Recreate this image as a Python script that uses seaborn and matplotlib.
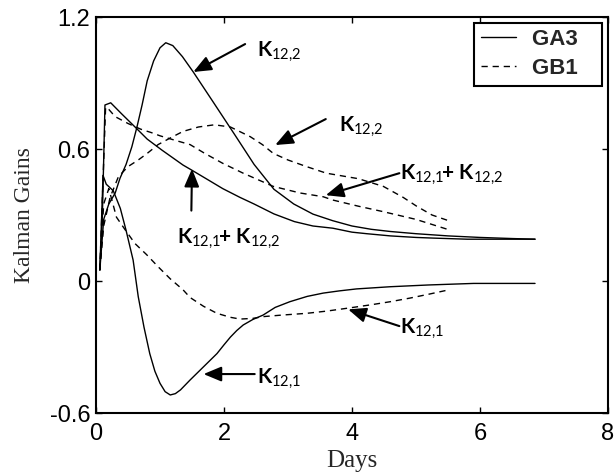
import matplotlib
matplotlib.use("Agg")
import matplotlib.pyplot as plt
import seaborn as sns
import pandas as pd
from matplotlib.lines import Line2D

# ---------------- data ----------------
ga3_k122_x = [0.06, 0.12, 0.2, 0.3, 0.375, 0.47, 0.56, 0.64, 0.72, 0.8, 0.9, 1.0, 1.09, 1.2, 1.35, 1.52,
              1.83, 2.17, 2.47, 2.78, 3.09, 3.39, 3.7, 4.0, 4.3, 4.6, 5.0, 5.5, 6.0, 6.5, 6.86]
ga3_k122_y = [0.05, 0.28, 0.35, 0.40, 0.467, 0.53, 0.61, 0.70, 0.80, 0.91, 1.0, 1.06, 1.083, 1.07, 1.02, 0.95,
              0.814, 0.664, 0.53, 0.417, 0.35, 0.304, 0.274, 0.25, 0.235, 0.225, 0.215, 0.205, 0.198, 0.193, 0.19]

ga3_sum_x = [0.06, 0.10, 0.14, 0.23, 0.4, 0.61, 0.8, 1.03, 1.2, 1.36, 1.49, 1.75, 1.98, 2.25, 2.47,
             2.78, 3.1, 3.39, 3.7, 4.0, 4.23, 4.6, 5.0, 5.27, 5.8, 6.3, 6.86]
ga3_sum_y = [0.05, 0.30, 0.80, 0.81, 0.76, 0.70, 0.645, 0.595, 0.56, 0.527, 0.505, 0.46, 0.42, 0.38, 0.35,
             0.305, 0.27, 0.25, 0.24, 0.222, 0.215, 0.205, 0.198, 0.195, 0.19, 0.19, 0.19]

ga3_k121_x = [0.06, 0.11, 0.16, 0.27, 0.38, 0.47, 0.58, 0.66, 0.75, 0.84, 0.92, 1.0, 1.08, 1.16, 1.24, 1.32,
              1.47, 1.68, 1.89, 2.0, 2.1, 2.2, 2.3, 2.45, 2.61, 2.8, 3.03, 3.3, 3.55, 3.8, 4.07, 4.6,
              5.2, 5.9, 6.86]
ga3_k121_y = [0.05, 0.48, 0.44, 0.41, 0.33, 0.23, 0.095, -0.071, -0.21, -0.33, -0.41, -0.465, -0.503,
              -0.518, -0.512, -0.495, -0.45, -0.39, -0.33, -0.29, -0.255, -0.225, -0.2, -0.175, -0.155,
              -0.12, -0.094, -0.07, -0.055, -0.045, -0.036, -0.026, -0.018, -0.011, -0.011]

gb1_k122_x = [0.06, 0.12, 0.22, 0.35, 0.5, 0.66, 0.8, 0.97, 1.16, 1.36, 1.6, 1.85, 2.1, 2.41, 2.6, 2.77,
              3.0, 3.29, 3.6, 3.8, 4.1, 4.49, 4.8, 5.01, 5.25, 5.5]
gb1_k122_y = [0.05, 0.25, 0.38, 0.474, 0.52, 0.55, 0.58, 0.62, 0.65, 0.68, 0.70, 0.71, 0.70, 0.656, 0.62,
              0.58, 0.55, 0.52, 0.49, 0.48, 0.465, 0.43, 0.38, 0.34, 0.30, 0.275]

gb1_sum_x = [0.06, 0.15, 0.2, 0.30, 0.50, 0.70, 0.87, 1.0, 1.23, 1.47, 1.7, 1.98, 2.3, 2.77, 3.19, 3.55,
             3.70, 4.1, 4.49, 5.0, 5.48]
gb1_sum_y = [0.05, 0.79, 0.78, 0.747, 0.716, 0.69, 0.674, 0.66, 0.64, 0.62, 0.58, 0.535, 0.49, 0.43, 0.40,
             0.383, 0.368, 0.34, 0.315, 0.28, 0.236]

gb1_k121_x = [0.06, 0.12, 0.2, 0.32, 0.45, 0.61, 0.79, 0.97, 1.16, 1.36, 1.47, 1.68, 1.89, 2.1, 2.25, 2.45,
              2.61, 2.9, 3.29, 3.6, 3.97, 4.3, 4.6, 4.9, 5.2, 5.5]
gb1_k121_y = [0.05, 0.35, 0.42, 0.29, 0.235, 0.17, 0.12, 0.065, 0.01, -0.04, -0.075, -0.115, -0.147, -0.165,
              -0.173, -0.17, -0.162, -0.155, -0.147, -0.137, -0.122, -0.108, -0.094, -0.078, -0.06, -0.041]

schemes = ["GA3", "GB1"]
x_ticks = [0, 2, 4, 6, 8]
y_ticks = [-0.6, 0, 0.6, 1.2]
y_ticklabels = ["-0.6", "0", "0.6", "1.2"]

# annotation labels: text, text (x, y), arrow tail, arrow head
lbl_k122 = r"$\mathbf{K}_{\mathrm{12{,}2}}$"
lbl_k121 = r"$\mathbf{K}_{\mathrm{12{,}1}}$"
lbl_sum = r"$\mathbf{K}_{\mathrm{12{,}1}}\!\mathbf{+}\ \mathbf{K}_{\mathrm{12{,}2}}$"
annotations = [
    (lbl_k122, (2.51, 1.02), (2.33, 1.077), (1.52, 0.95)),
    (lbl_k122, (3.79, 0.679), (3.59, 0.736), (2.80, 0.618)),
    (lbl_sum, (4.75, 0.459), (4.74, 0.49), (3.59, 0.39)),
    (lbl_sum, (1.26, 0.168), (1.49, 0.32), (1.50, 0.51)),
    (lbl_k121, (2.51, -0.465), (2.48, -0.423), (1.68, -0.423)),
    (lbl_k121, (4.75, -0.238), (4.74, -0.205), (3.94, -0.129)),
]

# ---------------- build long table ----------------
rows = []
for scheme, name, xs, ys in [
    ("GA3", "k122", ga3_k122_x, ga3_k122_y),
    ("GA3", "sum", ga3_sum_x, ga3_sum_y),
    ("GA3", "k121", ga3_k121_x, ga3_k121_y),
    ("GB1", "k122", gb1_k122_x, gb1_k122_y),
    ("GB1", "sum", gb1_sum_x, gb1_sum_y),
    ("GB1", "k121", gb1_k121_x, gb1_k121_y),
]:
    for xv, yv in zip(xs, ys):
        rows.append({"Days": xv, "Gain": yv, "scheme": scheme, "curve": scheme + name})
df = pd.DataFrame(rows)

# ---------------- style ----------------
sns.set_style("ticks")
plt.rcParams["font.family"] = ["Liberation Sans", "DejaVu Sans"]
plt.rcParams["axes.unicode_minus"] = False
plt.rcParams["mathtext.fontset"] = "custom"
plt.rcParams["mathtext.rm"] = "Lato"
plt.rcParams["mathtext.bf"] = "Lato:bold"
plt.rcParams["mathtext.it"] = "Lato:italic"

fig = plt.figure(figsize=(6.14, 4.76), dpi=100)
ax = fig.add_axes([96 / 614, 1 - 413 / 476, 512 / 614, 396 / 476])

dash_map = {"GA3": "", "GB1": (4.5, 3.5)}
sns.lineplot(data=df, x="Days", y="Gain", units="curve", style="scheme", dashes=dash_map,
             estimator=None, sort=False, color="black", linewidth=1.0, legend=False, ax=ax)

ax.set_xlim(0, 8)
ax.set_ylim(-0.6, 1.2)
ax.set_xticks(x_ticks)
ax.set_xticklabels([str(t) for t in x_ticks])
ax.set_yticks(y_ticks)
ax.set_yticklabels(y_ticklabels)
ax.tick_params(direction="in", length=4.5, width=1.0, labelsize=17, top=True, right=True,
               colors="black")
ax.tick_params(axis="x", pad=7)
ax.tick_params(axis="y", pad=4)
for s in ax.spines.values():
    s.set_linewidth(1.5)
    s.set_color("black")

ax.set_xlabel("Days", family=["Liberation Serif", "DejaVu Serif"], fontsize=18, labelpad=4)
ax.set_ylabel("Kalman Gains", family=["Liberation Serif", "DejaVu Serif"], fontsize=17, labelpad=11)

for text, tpos, tail, head in annotations:
    ax.annotate("", xy=head, xytext=tail,
                arrowprops=dict(arrowstyle="-|>,head_length=0.6,head_width=0.25",
                                mutation_scale=18, lw=1.5, color="black",
                                shrinkA=0, shrinkB=0))
    ax.text(tpos[0], tpos[1], text, fontsize=15, ha="left", va="baseline", color="black")

handles = [Line2D([], [], color="black", lw=1.0),
           Line2D([], [], color="black", lw=1.0, dashes=dash_map["GB1"])]
leg = ax.legend(handles, [s + "   " for s in schemes], loc="upper right", fancybox=False,
                framealpha=1, edgecolor="black", prop={"weight": "bold", "size": 16},
                handlelength=1.6, handletextpad=0.7, labelspacing=0.35, borderpad=0.3,
                borderaxespad=0.25)
leg.get_frame().set_linewidth(1.5)

fig.savefig("out.png", dpi=100)
